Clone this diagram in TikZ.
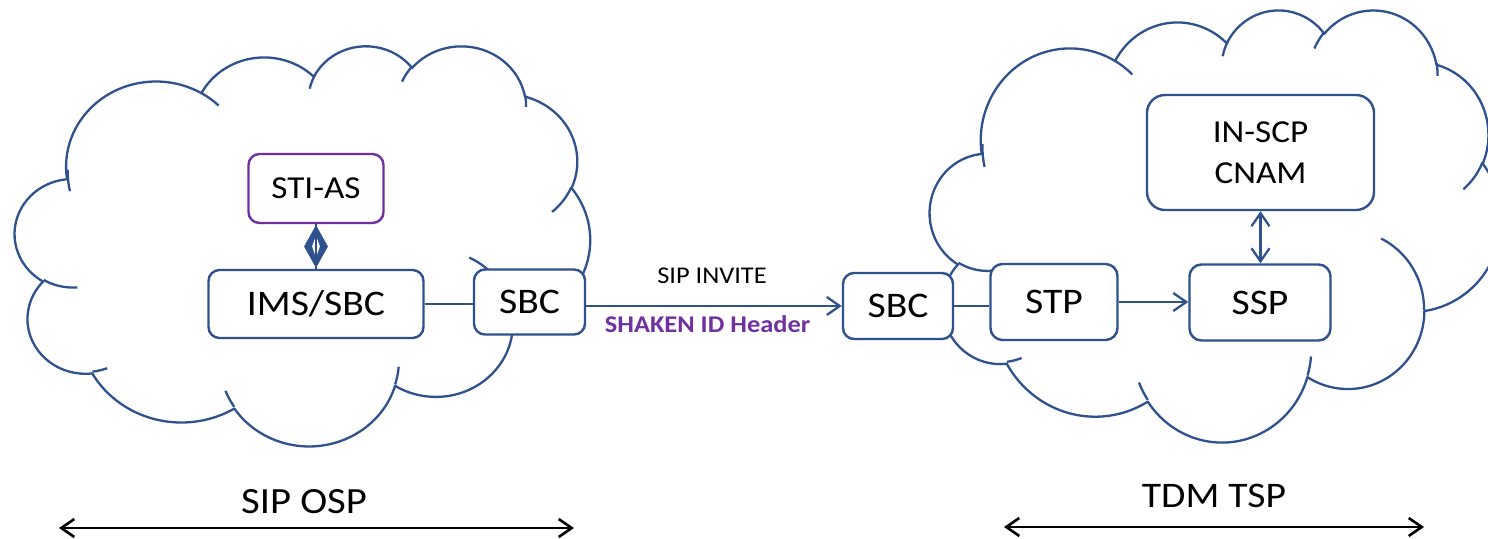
\documentclass[tikz,border=0pt]{standalone}
\usepackage{fontspec}
\setmainfont{Carlito}[FakeStretch=1.1]
\usetikzlibrary{arrows.meta,shapes.geometric}
\definecolor{myblue}{RGB}{47,82,143}
\definecolor{mypurple}{RGB}{112,48,160}
% DrawingML-like arcTo: radii, start angle (visual), sweep
\newcommand\ooarc[4]{arc[x radius=#1, y radius=#2, start angle={atan2((#1)*sin(#3),(#2)*cos(#3))}, delta angle={mod(atan2((#1)*sin((#3)+(#4)),(#2)*cos((#3)+(#4)))-atan2((#1)*sin(#3),(#2)*cos(#3))+720,360)}]}
\newcommand\pptcloud{%
\draw[cloudline] (3.900,14.370)
 \ooarc{6.753}{9.190}{-190.4875}{123.7805}
 \ooarc{5.333}{7.267}{-144.1024}{89.9452}
 \ooarc{4.365}{5.945}{-145.8079}{99.7230}
 \ooarc{4.857}{6.595}{-130.9861}{117.2417}
 \ooarc{5.333}{7.273}{-78.7089}{109.0269}
 \ooarc{6.775}{9.220}{-46.2673}{130.2690}
 \ooarc{5.785}{7.867}{0.6250}{114.0333}
 \ooarc{6.752}{9.215}{22.4516}{115.1726}
 \ooarc{7.720}{10.543}{66.2426}{75.7110}
 \ooarc{4.360}{5.918}{-274.9421}{146.7356}
 \ooarc{4.345}{5.945}{-246.8285}{152.5189} -- cycle;
\draw[cloudline]
 (4.693,26.177) \ooarc{4.345}{5.945}{86.7420}{26.4295}
 (6.928,34.899) \ooarc{4.360}{5.918}{73.6105}{11.4475}
 (16.478,39.090) \ooarc{6.752}{9.215}{137.6242}{14.0811}
 (28.827,34.751) \ooarc{6.752}{9.215}{6.4533}{15.9984}
 (34.129,22.954) \ooarc{5.785}{7.867}{-70.2924}{70.9174}
 (41.798,15.354) \ooarc{5.333}{7.273}{30.3180}{27.7515}
 (38.324,5.426) \ooarc{4.857}{6.595}{-13.7443}{14.8538}
 (29.078,3.952) \ooarc{4.857}{6.595}{-149.1815}{18.1864}
 (22.141,4.720) \ooarc{4.365}{5.945}{-163.4943}{17.6933}
 (14.000,5.192) \ooarc{6.753}{9.190}{-66.7070}{12.3194}
 (4.127,15.789) \ooarc{6.753}{9.190}{163.0481}{19.4185};
}
\begin{document}
\begin{tikzpicture}[x=1pt,y=-1pt,
  >={Straight Barb[length=13pt,width=18pt]},
  cloudline/.style={draw=myblue, line width=2.3pt, line join=round},
  pbox/.style={draw=myblue, line width=2.4pt, fill=white, rounded corners=11pt,
    inner sep=0pt, align=center, font=\fontsize{36}{40}\selectfont},
  conn/.style={draw=myblue, line width=2.3pt},
  spanarrow/.style={draw=black, line width=2.6pt, <->},
  lbl/.style={inner sep=0pt, anchor=base}]
\fill[white] (0,0) rectangle (1488,538);
\useasboundingbox (0,0) rectangle (1488,538);
\begin{scope}
  \clip (0,0) rectangle (1488,538);
  \begin{scope}[shift={(15,45)}, xscale=575/43.2, yscale=400/43.2]
    \pptcloud
  \end{scope}
  \begin{scope}[shift={(930,9)}, xscale=571/43.2, yscale=432/43.2]
    \pptcloud
  \end{scope}
\end{scope}
% boxes
\node[pbox, draw=mypurple, minimum width=135pt, minimum height=69pt,
  font=\fontsize{32}{38}\selectfont] (sti) at (316,188.5) {STI-AS};
\node[pbox, minimum width=215pt, minimum height=68pt] (ims) at (316,304) {IMS/SBC};
\node[pbox, minimum width=111pt, minimum height=65pt] (sbcL) at (529.5,302) {SBC};
\node[pbox, minimum width=110pt, minimum height=66pt] (sbcR) at (898,306) {SBC};
\node[pbox, minimum width=127pt, minimum height=76pt, rounded corners=12pt] (stp) at (1054,302) {STP};
\node[pbox, minimum width=141pt, minimum height=76pt, rounded corners=12pt] (ssp) at (1260,302.5) {SSP};
\node[pbox, minimum width=227pt, minimum height=115pt, rounded corners=18pt,
  font=\fontsize{32}{41}\selectfont] (scp) at (1260.5,152.5) {IN-SCP\\CNAM};
% connectors
\path (sti.south) -- (ims.north)
  node[pos=0.5, diamond, fill=myblue, minimum width=24pt, minimum height=43pt, inner sep=0pt] (dmdo) {}
  node[pos=0.5, diamond, fill=white, minimum width=8pt, minimum height=22pt, inner sep=0pt] (dmdi) {};
\draw[conn] (sti.south) -- (ims.north);
\draw[conn] (ims.east) -- (ims.east -| sbcL.west);
\draw[conn, ->] (sbcL.east |- sbcR.west) -- (sbcR.west);
\draw[conn] (sbcR.east) -- (sbcR.east -| stp.west);
\draw[conn, ->] (stp.east) -- (stp.east -| ssp.west);
\draw[conn, <->] (scp.south) -- (scp.south |- ssp.north);
% labels
\node[lbl, font=\fontsize{24}{28}\selectfont] (invite) at (712,283) {SIP INVITE};
\node[lbl, font=\fontsize{24}{28}\selectfont\bfseries, text=mypurple] (shaken) at (707.5,332) {SHAKEN ID Header};
\node[lbl, font=\fontsize{37}{40}\selectfont] (osp) at (304,513) {SIP OSP};
\node[lbl, font=\fontsize{36}{40}\selectfont] (tsp) at (1214,507) {TDM TSP};
% span arrows
\coordinate (ospL) at (59,528);
\coordinate (ospR) at (574,528);
\coordinate (tspL) at (1004,527);
\coordinate (tspR) at (1424,527);
\draw[spanarrow] (ospL) -- (ospR);
\draw[spanarrow] (tspL) -- (tspR);
\end{tikzpicture}
\end{document}
